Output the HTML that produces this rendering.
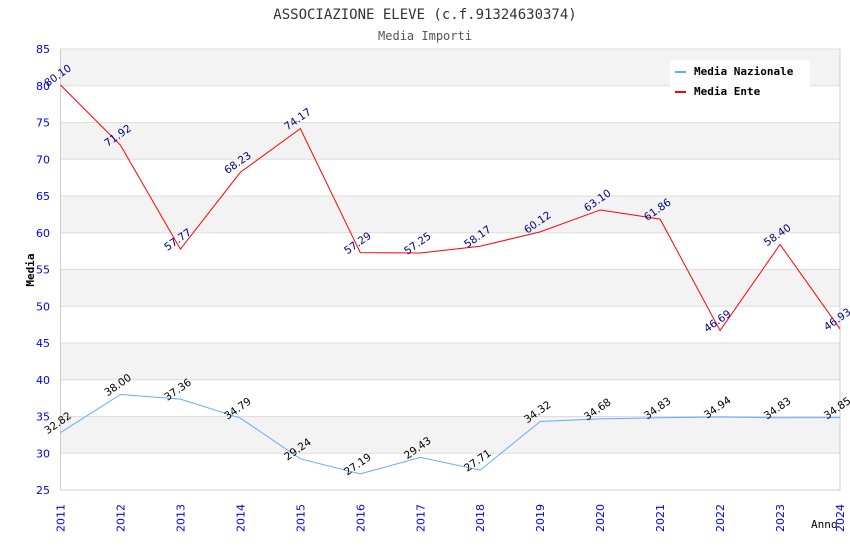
<!DOCTYPE html>
<html><head><meta charset="utf-8"><style>
body{margin:0;background:#fff}
.sans{font-family:"DejaVu Sans","Liberation Sans",sans-serif}
</style></head><body>
<svg id="c" width="850" height="550" xmlns="http://www.w3.org/2000/svg">
<text x="425" y="19" text-anchor="middle" style="font-family:'DejaVu Sans Mono','Liberation Mono',monospace" font-size="14" fill="#333">ASSOCIAZIONE ELEVE (c.f.91324630374)</text>
<text x="425" y="40" text-anchor="middle" style="font-family:'DejaVu Sans Mono','Liberation Mono',monospace" font-size="12" fill="#555">Media Importi</text>
<g id="bands"></g><g id="axes" class="sans"></g><g id="series"></g><g id="labels" class="sans"></g>
<text transform="translate(34,270) rotate(-90)" text-anchor="middle" style="font-family:'DejaVu Sans Mono',monospace" font-weight="bold" font-size="11" fill="#000">Media</text>
<text x="811" y="528" style="font-family:'DejaVu Sans Mono',monospace" font-size="11" fill="#000">Anno</text>
<g>
<rect x="670" y="60" width="140" height="40" fill="#fff"/>
<line x1="675" y1="72" x2="686" y2="72" stroke="#66aaff" stroke-width="2"/>
<text x="694" y="75" style="font-family:'DejaVu Sans Mono',monospace" font-weight="bold" font-size="11">Media Nazionale</text>
<line x1="675" y1="92" x2="686" y2="92" stroke="#ff0000" stroke-width="2"/>
<text x="694" y="95" style="font-family:'DejaVu Sans Mono',monospace" font-weight="bold" font-size="11">Media Ente</text>
</g>
</svg>
<script>
const years=[2011,2012,2013,2014,2015,2016,2017,2018,2019,2020,2021,2022,2023,2024];
const ente=[80.10,71.92,57.77,68.23,74.17,57.29,57.25,58.17,60.12,63.10,61.86,46.69,58.40,46.93];
const nazionale=[32.82,38.00,37.36,34.79,29.24,27.19,29.43,27.71,34.32,34.68,34.83,34.94,34.83,34.85];
const yTicks=[25,30,35,40,45,50,55,60,65,70,75,80,85];
const NS="http://www.w3.org/2000/svg";
const L=60.5,R=840,T=49,B=490,ymin=25,ymax=85;
const x=i=>L+(R-L)*i/(years.length-1);
const y=v=>B-(v-ymin)*(B-T)/(ymax-ymin);
function mk(tag,a,p){const e=document.createElementNS(NS,tag);for(const k in a)e.setAttribute(k,a[k]);p.appendChild(e);return e;}
const bands=document.getElementById('bands'),axes=document.getElementById('axes'),ser=document.getElementById('series'),lab=document.getElementById('labels');
for(let v=30;v<=80;v+=10){const r=mk('rect',{x:L,y:y(v+5),width:R-L,height:y(v)-y(v+5),fill:'#f3f3f3'},bands);

}
yTicks.forEach(v=>{const g=mk('line',{x1:L,x2:R,y1:y(v),y2:y(v),stroke:'#ddd'},axes);


const t=mk('text',{x:50,y:y(v)+4,'text-anchor':'end','font-size':11,fill:'#0000ee'},axes);t.textContent=v;

});
const ax=mk('path',{d:`M${L},${T}V${B}H${R}V${T}`,fill:'none',stroke:'#ccc'},axes);


years.forEach((yr,i)=>{const t=mk('text',{transform:`translate(${x(i)+4},${B+42}) rotate(-90)`,'font-size':11,fill:'#0000ee'},axes);t.textContent=yr;

});
function draw(data,color,lc,name){
const p=mk('polyline',{points:data.map((v,i)=>x(i)+','+y(v)).join(' '),fill:'none',stroke:color,'stroke-width':1},ser);


data.forEach((v,i)=>{const t=mk('text',{transform:`translate(${x(i)-13},${y(v)+2}) rotate(-35)`,'font-size':10.5,fill:lc},lab);t.textContent=v.toFixed(2);

});}
draw(nazionale,'#66aaff','#000','nazionale');
draw(ente,'#ff0000','#000080','ente');
</script>
</body></html>
